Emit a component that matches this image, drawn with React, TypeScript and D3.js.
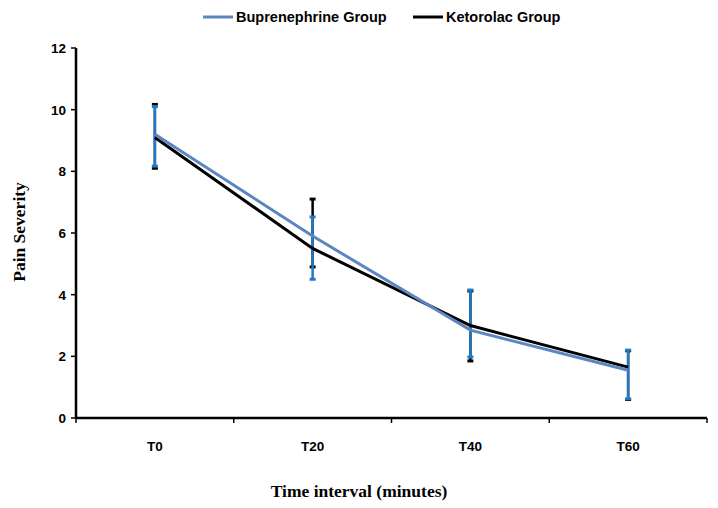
import React from "react";
import * as d3 from "d3";

const categories = ["T0", "T20", "T40", "T60"];
const yTicks = [0, 2, 4, 6, 8, 10, 12];
const buprenephrine = [9.2, 5.9, 2.85, 1.55];
const ketorolac = [9.1, 5.5, 3.0, 1.65];
const buprenErrLow = [8.17, 4.5, 1.98, 0.62];
const buprenErrHigh = [10.1, 6.52, 4.15, 2.2];
const ketoErrLow = [8.1, 4.9, 1.85, 0.6];
const ketoErrHigh = [10.17, 7.1, 4.12, 2.18];

const W = 718;
const H = 508;
const left = 76;
const right = 707;
const top = 48;
const bottom = 418;

const BLUE_LINE = "#5b87c0";
const BLUE_ERR = "#2178c4";

export default function App() {
  const x = d3.scaleBand<string>().domain(categories).range([left, right]).padding(0);
  const y = d3.scaleLinear().domain([0, 12]).range([bottom, top]);
  const cx = (c: string) => (x(c) as number) + x.bandwidth() / 2;
  const line = d3
    .line<number>()
    .x((_, i) => cx(categories[i]))
    .y((d) => y(d));

  const sansBold = { fontFamily: "'Liberation Sans', Arial, sans-serif", fontWeight: 700 };
  const serifBold = { fontFamily: "'Liberation Serif', 'Times New Roman', serif", fontWeight: 700 };

  const errBars = (lo: number[], hi: number[], color: string, w: number) =>
    categories.map((c, i) => {
      const px = cx(c);
      return (
        <g key={c} stroke={color} strokeWidth={w}>
          <line x1={px} x2={px} y1={y(lo[i])} y2={y(hi[i])} />
          <line x1={px - 3} x2={px + 3} y1={y(lo[i])} y2={y(lo[i])} strokeWidth={3} />
          <line x1={px - 3} x2={px + 3} y1={y(hi[i])} y2={y(hi[i])} strokeWidth={3} />
        </g>
      );
    });

  return (
    <svg width={W} height={H} style={{ position: "absolute", left: 0, top: 0, background: "#fff" }}>
      {/* legend */}
      <line x1={203} x2={233} y1={17} y2={17} stroke={BLUE_LINE} strokeWidth={3} />
      <text x={236} y={22} fontSize={14.5} style={sansBold} fill="#000">
        Buprenephrine Group
      </text>
      <line x1={413} x2={443} y1={17} y2={17} stroke="#000" strokeWidth={3} />
      <text x={446} y={22} fontSize={14.5} style={sansBold} fill="#000">
        Ketorolac Group
      </text>

      {/* y axis */}
      <line x1={left} x2={left} y1={top} y2={bottom} stroke="#000" strokeWidth={2.5} />
      {yTicks.map((t) => (
        <g key={t}>
          <line x1={left - 5} x2={left} y1={y(t)} y2={y(t)} stroke="#000" strokeWidth={1.5} />
          <text x={left - 10} y={y(t) + 5} textAnchor="end" fontSize={13.5} style={sansBold} fill="#000">
            {t}
          </text>
        </g>
      ))}

      {/* x axis */}
      <line x1={left} x2={right} y1={bottom} y2={bottom} stroke="#000" strokeWidth={2.5} />
      {[...categories.map((c) => x(c) as number), right].map((px, i) => (
        <line key={i} x1={px} x2={px} y1={bottom} y2={bottom + 5} stroke="#000" strokeWidth={1.5} />
      ))}
      {categories.map((c) => (
        <text key={c} x={cx(c)} y={451} textAnchor="middle" fontSize={13.5} style={sansBold} fill="#000">
          {c}
        </text>
      ))}

      {/* axis titles */}
      <text x={359} y={497} textAnchor="middle" fontSize={17.5} style={serifBold} fill="#000">
        Time interval (minutes)
      </text>
      <text
        transform={`translate(25,232) rotate(-90)`}
        textAnchor="middle"
        fontSize={17.5}
        style={serifBold}
        fill="#000"
      >
        Pain Severity
      </text>

      {/* error bars */}
      {errBars(ketoErrLow, ketoErrHigh, "#000", 2.5)}
      {errBars(buprenErrLow, buprenErrHigh, BLUE_ERR, 2.5)}

      {/* lines */}
      <path d={line(ketorolac) || ""} fill="none" stroke="#000" strokeWidth={3} />
      <path d={line(buprenephrine) || ""} fill="none" stroke={BLUE_LINE} strokeWidth={3} />
    </svg>
  );
}
